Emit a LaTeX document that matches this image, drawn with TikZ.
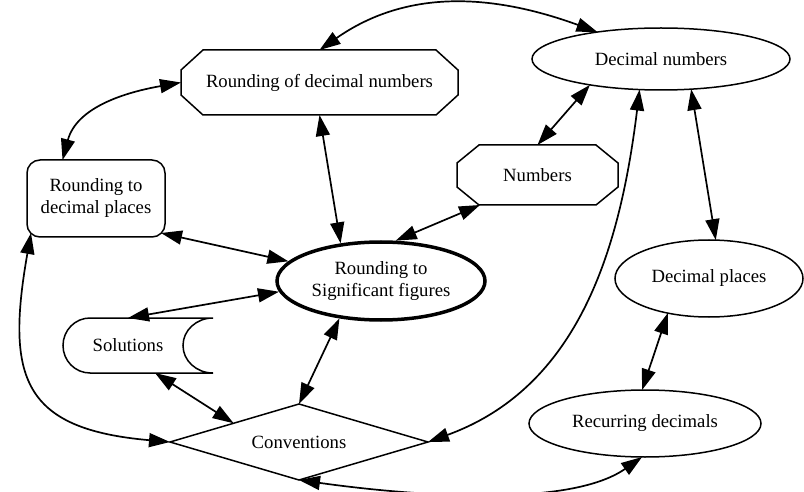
\documentclass[tikz,border=0pt]{standalone}
\usepackage{fontspec}
\setmainfont{Liberation Serif}
\usetikzlibrary{shapes.geometric, arrows.meta, positioning}

% octagon outline round a plain node: node, x cut, y cut
\newcommand{\cutcorners}[3]{%
  \draw ([xshift=#2]#1.north west) -- ([xshift=-#2]#1.north east)
     -- ([yshift=-#3]#1.north east) -- ([yshift=#3]#1.south east)
     -- ([xshift=-#2]#1.south east) -- ([xshift=#2]#1.south west)
     -- ([yshift=#3]#1.south west) -- ([yshift=-#3]#1.north west) -- cycle;}

\begin{document}
\begin{tikzpicture}[x=1pt, y=1pt, line width=1.5pt,
                    >={Triangle[length=21pt, width=14pt]}]

\useasboundingbox (0,0) rectangle (804,-492);

% topics, placed at the coordinates of the sheet
\begin{scope}[every node/.style={font=\fontsize{18.7}{22}\selectfont, align=center,
                                 inner sep=0pt, outer sep=0pt}]
\node [minimum width=277pt, minimum height=65pt] (rdn) at (319.5,-82.5) {Rounding of decimal numbers};
\cutcorners{rdn}{22pt}{20pt}
\node [ellipse, draw, minimum width=258pt, minimum height=62pt] (dn) at (661,-59) {Decimal numbers};
\node [minimum width=161pt, minimum height=60pt] (num) at (537.5,-175) {Numbers};
\cutcorners{num}{22pt}{18pt}
\node [draw, rounded corners=13pt, minimum width=138pt, minimum height=77pt] (rdp) at (96,-198.5) {Rounding to\\decimal places};
\node [ellipse, draw, line width=3.5pt, outer sep=1.75pt, minimum width=208pt, minimum height=78pt] (rsf) at (381,-281) {Rounding to\\Significant figures};
\node [minimum width=130pt, minimum height=55pt] (sol) at (128,-345.5) {Solutions};
\draw ([xshift=27pt]sol.north west) -- ([xshift=20pt]sol.north east)
      arc[start angle=90, end angle=270, x radius=30, y radius=27.5]
      -- ([xshift=27pt]sol.south west)
      arc[start angle=270, end angle=90, x radius=27, y radius=27.5] -- cycle;
\node [diamond, draw, aspect=3.4, minimum width=258pt, minimum height=76pt] (conv) at (299,-442) {Conventions};
\node [ellipse, draw, minimum width=188pt, minimum height=77pt] (dp) at (709,-278.5) {Decimal places};
\node [ellipse, draw, minimum width=232pt, minimum height=67pt] (rd) at (645,-423.5) {Recurring decimals};
\end{scope}

\begin{scope}[every path/.style={<->, draw, line width=1.7pt}]
	\draw (rdn.north) to[out=35, in=160] (dn.157);
	\draw (rdp.131) to[out=75, in=190] (rdn.west);
	\draw (rdn.south) -- (rsf.137);
	\draw (dn.200) -- (num.north);
	\draw ([xshift=23pt]num.south west) -- (rsf.70);
	\draw (dn.235) to[out=-97, in=20] (conv.east);
	\draw (dn.315) -- (dp.80);
	\draw (dp.220) -- (rd.95);
	\draw ([shift={(-4pt,4pt)}]rdp.south east) -- (rsf.168);
	\draw (rsf.186) -- (sol.north);
	\draw (rsf.222) -- (conv.north);
	\draw ([xshift=27pt]sol.south) -- (conv.164);
	\draw ([shift={(4pt,4pt)}]rdp.south west) to[out=-100, in=175, looseness=1.5] (conv.west);
	\draw (conv.south) to[out=-8, in=215, looseness=0.7] (rd.265);
\end{scope}

\end{tikzpicture}
\end{document}
